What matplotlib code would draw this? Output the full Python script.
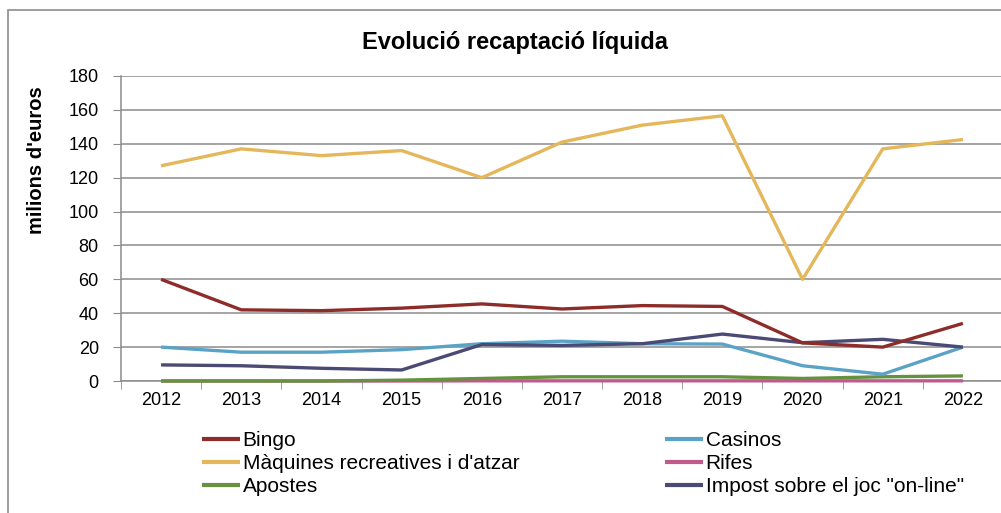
import matplotlib.pyplot as plt
from matplotlib.patches import Rectangle

# Data (milions d'euros)
years = ['2012', '2013', '2014', '2015', '2016', '2017', '2018', '2019', '2020', '2021', '2022']
bingo = [60, 42, 41.5, 43, 45.5, 42.5, 44.5, 44, 22.5, 20, 34]
casinos = [20, 17, 17, 18.5, 22, 23.5, 22, 21.8, 9, 4, 20]
maquines = [127, 137, 133, 136, 120, 141, 151, 156.5, 60, 137, 142.5]
rifes = [0, 0, 0, 0, 0.1, 0.1, 0.1, 0.1, 0.1, 0.1, 0.1]
apostes = [0, 0, 0, 0.5, 1.5, 2.5, 2.5, 2.5, 1.5, 2.5, 3]
online = [9.5, 9, 7.5, 6.5, 21.5, 21, 22, 27.7, 22.6, 24.6, 20]

series = [
    ('Bingo', bingo, '#8E2C2A'),
    ('Casinos', casinos, '#5BA3C6'),
    ("Màquines recreatives i d'atzar", maquines, '#E4B75A'),
    ('Rifes', rifes, '#C05A8C'),
    ('Apostes', apostes, '#66913F'),
    ('Impost sobre el joc "on-line"', online, '#4B4A74'),
]

plt.rcParams['font.family'] = ['Liberation Sans', 'DejaVu Sans']

fig = plt.figure(figsize=(10.01, 5.13), dpi=100)
ax = fig.add_axes([121 / 1001, 132 / 513, 882 / 1001, 305 / 513])

# outer chart frame
fig.patches.append(Rectangle((8 / 1001, -0.1), 1.2, (503 / 513) + 0.1, transform=fig.transFigure,
                             fill=False, edgecolor='#8c8c8c', linewidth=1.2))

x = range(len(years))
# draw order: rifes under apostes, on-line over casinos
order = [3, 4, 1, 5, 0, 2]
lines = {}
for z, i in enumerate(order):
    name, vals, col = series[i]
    lines[i], = ax.plot(x, vals, color=col, linewidth=2.4, label=name,
                        solid_capstyle='butt', zorder=3 + z, clip_on=False)

ax.set_xlim(-0.5, len(years) - 0.5)
ax.set_ylim(0, 180)
ax.set_yticks(range(0, 181, 20))
ax.set_xticks(list(x))
ax.set_xticklabels(years)
ax.set_xticks([i - 0.5 for i in range(len(years) + 1)], minor=True)
ax.tick_params(axis='x', which='major', length=0, pad=8, labelsize=13)
ax.tick_params(axis='x', which='minor', length=6, color='#8c8c8c', direction='out')
ax.tick_params(axis='y', length=6, color='#8c8c8c', labelsize=13, pad=10)

ax.grid(axis='y', color='#8c8c8c', linewidth=1.1)
ax.set_axisbelow(True)
for s in ['top', 'right']:
    ax.spines[s].set_visible(False)
for s in ['left', 'bottom']:
    ax.spines[s].set_color('#8c8c8c')
    ax.spines[s].set_linewidth(1.1)

fig.text(37 / 1001, 1 - 160 / 513, "milions d'euros", rotation=90, ha='center', va='center',
         fontsize=14.5, fontweight='bold')

fig.text(515 / 1001, 1 - 42 / 513, 'Evolució recaptació líquida', ha='center', va='center',
         fontsize=17, fontweight='bold')

handles = [lines[i] for i in [0, 2, 4, 1, 3, 5]]
leg = fig.legend(handles, [h.get_label() for h in handles], ncol=2,
                 loc='upper left', bbox_to_anchor=(202 / 1001, 1 - 431 / 513),
                 frameon=False, prop={'size': 15},
                 handlelength=1.8, handletextpad=0.15, columnspacing=7.0,
                 labelspacing=0.2, borderaxespad=0, borderpad=0)
for h in leg.get_lines():
    h.set_linewidth(3)

fig.savefig('out.png', dpi=100)
